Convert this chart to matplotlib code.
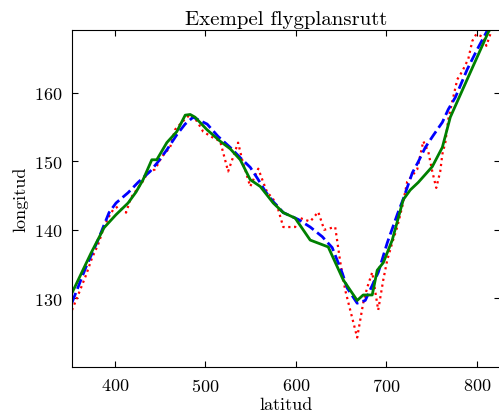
import matplotlib
matplotlib.use('Agg')
import matplotlib.pyplot as plt

plt.rcParams['font.family'] = 'serif'
plt.rcParams['font.serif'] = ['cmr10', 'DejaVu Serif']
plt.rcParams['axes.formatter.use_mathtext'] = True

# measured route (noisy)
lat_meas = [352.8, 361.7, 368.3, 374.9, 381.5, 387.1, 392.6, 398.1, 403.6, 412.5,
            418.0, 425.7, 432.4, 435.7, 444.5, 452.3, 461.1, 466.6, 474.4, 483.3,
            490.9, 497.6, 507.5, 516.4, 525.2, 536.2, 540.7, 549.6, 558.5, 562.9,
            568.4, 573.9, 579.5, 586.1, 599.2, 604.8, 615.8, 624.7, 631.3, 640.1,
            643.4, 649.0, 654.5, 660.0, 667.7, 674.3, 678.8, 684.3, 690.9, 696.5,
            700.9, 706.4, 711.9, 717.5, 722.9, 734.0, 740.7, 746.2, 750.6, 755.0,
            759.4, 761.7, 765.0, 768.3, 772.7, 778.2, 783.8, 790.4, 794.8, 799.2,
            806.9, 810.3, 814.7, 820.2]
lon_meas = [128.3, 131.2, 133.4, 135.9, 137.8, 140.0, 141.7, 142.9, 143.4, 142.5,
            144.7, 146.1, 147.3, 148.3, 148.8, 150.7, 152.0, 154.6, 155.7, 156.8,
            155.8, 154.3, 153.5, 152.9, 148.5, 152.7, 150.2, 146.3, 148.9, 147.3,
            145.4, 144.7, 143.4, 140.4, 140.4, 141.7, 141.2, 142.6, 140.0, 140.3,
            140.4, 135.3, 131.2, 128.3, 124.3, 129.3, 131.6, 133.8, 128.3, 132.7,
            135.6, 138.1, 140.4, 143.4, 147.0, 148.8, 152.9, 151.4, 148.5, 146.1,
            148.5, 151.0, 152.7, 156.1, 158.7, 161.9, 163.1, 164.9, 167.5, 168.5,
            168.1, 166.8, 168.5, 170.7]

# planned route
lat_plan = [352.8, 368.3, 381.5, 393.7, 401.4, 414.7, 425.7, 439.0, 447.8, 457.8,
            468.8, 477.7, 486.5, 502.0, 514.1, 527.5, 538.6, 549.6, 558.5, 566.2,
            575.0, 586.1, 602.7, 615.8, 629.1, 640.1, 651.2, 656.7, 667.7, 676.6,
            685.4, 691.0, 700.9, 711.9, 718.6, 728.6, 735.1, 742.9, 751.7, 761.7,
            768.3, 776.1, 789.3, 800.3, 812.5, 820.2]
lon_plan = [129.4, 134.6, 138.5, 142.5, 143.9, 145.4, 146.9, 148.5, 149.9, 151.7,
            153.9, 155.4, 156.4, 155.4, 153.6, 152.0, 150.5, 149.1, 147.3, 145.6,
            144.1, 142.5, 141.5, 140.4, 139.0, 137.4, 133.7, 131.5, 129.3, 129.7,
            132.2, 133.8, 138.1, 142.2, 144.5, 148.3, 149.9, 152.0, 153.75, 155.65,
            157.55, 159.3, 163.4, 166.3, 169.3, 171.0]

# filtered route
lat_filt = [352.8, 373.8, 388.2, 401.4, 414.7, 423.5, 431.3, 440.9, 446.4, 457.5,
            468.5, 477.8, 483.3, 488.7, 501.7, 516.4, 527.5, 538.6, 549.6, 560.7,
            575.0, 586.1, 599.2, 615.8, 635.7, 652.3, 667.7, 674.3, 684.3, 689.8,
            696.5, 706.4, 718.6, 726.3, 735.1, 750.6, 761.7, 770.5, 779.3, 812.5,
            820.2]
lon_filt = [130.8, 136.6, 140.3, 142.2, 143.9, 145.5, 147.3, 150.2, 150.2, 152.7,
            154.3, 156.7, 156.8, 156.4, 154.6, 152.9, 151.8, 150.2, 147.3, 146.3,
            143.9, 142.5, 141.7, 138.5, 137.5, 132.7, 129.7, 130.5, 130.5, 134.1,
            135.2, 138.5, 144.4, 145.8, 146.9, 149.2, 152.0, 156.4, 159.0, 168.8,
            170.4]

fig = plt.figure(figsize=(4.99, 4.14), dpi=100)
ax = fig.add_axes([0.1443, 0.111, 0.857, 0.814])

ax.plot(lat_meas, lon_meas, 'r:', lw=1.6)
ax.plot(lat_plan, lon_plan, 'b--', lw=2.0)
ax.plot(lat_filt, lon_filt, 'g-', lw=2.0)

ax.set_xlim(352.8, 825)
ax.set_ylim(120, 169.1)
ax.set_xticks([400, 500, 600, 700, 800])
ax.set_yticks([130, 140, 150, 160])
ax.tick_params(direction='in', top=True, right=True, length=4, labelsize=13, pad=7)

ax.set_title('Exempel flygplansrutt', fontsize=15, pad=4)
ax.set_xlabel('latitud', fontsize=13, labelpad=2)
ax.set_ylabel('longitud', fontsize=13, labelpad=4)

fig.savefig('out.png', dpi=100)
